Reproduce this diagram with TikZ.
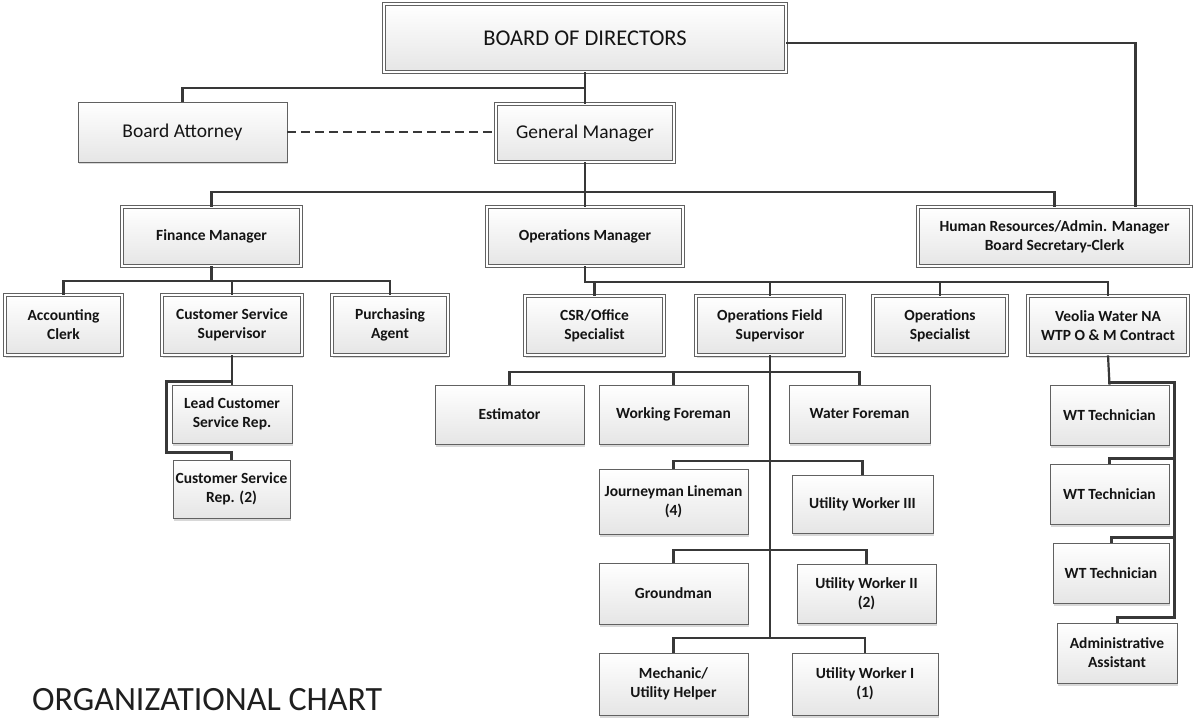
\documentclass[tikz,border=0pt]{standalone}
\usepackage{fontspec}
\setmainfont{Carlito}
\usetikzlibrary{shadows}
\newcommand\orgbox[7]{%
  \node[#6, minimum width={#4-#2}, minimum height={#5-#3}] (#1) at ({(#2+#4)/2},{(#3+#5)/2}) {#7};}
\begin{document}
\begin{tikzpicture}[x=1pt,y=-1pt,
  box/.style={draw=black!62, line width=0.8pt, top color=white, bottom color=black!10,
    inner sep=1pt, align=center, text=black!92,
    font=\bfseries\fontsize{15.5}{19}\selectfont,
    drop shadow={shadow xshift=1pt, shadow yshift=-2.5pt, fill=black!30, opacity=0.5}},
  dbox/.style={box, double=white, double distance=1.8pt, line width=0.75pt},
  bigtext/.style={font=\fontsize{19.5}{22}\selectfont},
  conn/.style={draw=black!78, line width=2.2pt},
  connw/.style={draw=black!78, line width=3pt},
  dashconn/.style={draw=black!78, line width=2.2pt, dash pattern=on 9pt off 5pt}
]
\fill[white] (0,0) rectangle (1194,719);
\useasboundingbox (0,0) rectangle (1194,719);

% boxes
\orgbox{bod}{384}{4}{786}{72}{dbox, font=\fontsize{22.5}{26}\selectfont}{BOARD OF DIRECTORS}
\orgbox{ba}{78}{102}{287}{162}{box, bigtext}{Board Attorney}
\orgbox{gm}{496}{104}{674}{162}{dbox, bigtext}{General Manager}
\orgbox{fm}{122}{207}{301}{266}{dbox}{Finance Manager}
\orgbox{om}{487}{207}{683}{266}{dbox}{Operations Manager}
\orgbox{hr}{918}{207}{1191}{266}{dbox}{Human Resources/Admin. Manager\\Board Secretary-Clerk}
\orgbox{ac}{5}{295}{122}{355}{dbox}{Accounting\\Clerk}
\orgbox{css}{162}{295}{302}{355}{dbox}{Customer Service\\Supervisor}
\orgbox{pa}{332}{295}{448}{355}{dbox}{Purchasing\\Agent}
\orgbox{lcsr}{172}{385}{292}{443}{box}{Lead Customer\\Service Rep.}
\orgbox{csr}{173}{460}{290}{518}{box}{Customer Service\\Rep. (2)}
\orgbox{cso}{525}{296}{664}{355}{dbox}{CSR/Office\\Specialist}
\orgbox{ofs}{696}{296}{844}{355}{dbox}{Operations Field\\Supervisor}
\orgbox{os}{873}{296}{1007}{355}{dbox}{Operations\\Specialist}
\orgbox{veo}{1028}{296}{1188}{355}{dbox}{Veolia Water NA\\WTP O \& M Contract}
\orgbox{est}{435}{385}{584}{444}{box}{Estimator}
\orgbox{wf}{599}{385}{748}{444}{box}{Working Foreman}
\orgbox{wtf}{789}{385}{930}{443}{box}{Water Foreman}
\orgbox{jl}{599}{469}{748}{534}{box}{Journeyman Lineman\\(4)}
\orgbox{uw3}{792}{475}{933}{533}{box}{Utility Worker III}
\orgbox{gr}{599}{563}{748}{624}{box}{Groundman}
\orgbox{uw2}{797}{564}{936}{623}{box}{Utility Worker II\\(2)}
\orgbox{mech}{599}{653}{748}{715}{box}{Mechanic/\\Utility Helper}
\orgbox{uw1}{792}{653}{938}{715}{box}{Utility Worker I\\(1)}
\orgbox{wt1}{1050}{385}{1169}{445}{box}{WT Technician}
\orgbox{wt2}{1050}{464}{1169}{524}{box}{WT Technician}
\orgbox{wt3}{1053}{543}{1169}{603}{box}{WT Technician}
\orgbox{adm}{1057}{623}{1177}{683}{box}{Administrative\\Assistant}

\node[anchor=base west, inner sep=0pt, font=\fontsize{34}{34}\selectfont, text=black!88] (title) at (32,710) {ORGANIZATIONAL CHART};

% junction coordinates
\coordinate (j1) at (585,88);
\coordinate (j2) at (585,192);
\coordinate (j3) at (211.5,281);
\coordinate (j4) at (585,282);
\coordinate (j5) at (232,381);
\coordinate (j6) at (166,452);
\coordinate (k1) at (770,372);
\coordinate (k2) at (770,461);
\coordinate (k3) at (770,550);
\coordinate (k4) at (770,638);
\coordinate (v1) at (1108,382);
\coordinate (v2) at (1174,617);
\coordinate (v3) at (1174,458);
\coordinate (v4) at (1174,537);

% connectors
\draw[conn] ([yshift=-5pt]bod.east) -| ([xshift=81pt]hr.north);
\draw[conn] (bod.south) -- (gm.north);
\draw[conn] (ba.north) |- (j1);
\draw[dashconn] (ba.east) -- (ba.east -| gm.west);
\draw[conn] (gm.south) -- (om.north);
\draw[conn] (fm.north) |- (j2) -| (hr.north);
\draw[conn] (fm.south) -- (j3);
\draw[conn] (ac.north) |- (j3) -| (pa.north);
\draw[conn] (css.north) -- (css.north |- j3);
\draw[conn] (css.south) -- (lcsr.north);
\draw[connw] (j5) -| (j6) -| (csr.north);
\draw[conn] (om.south) -- (j4) -| (veo.north);
\draw[conn] (cso.north) -- (cso.north |- j4);
\draw[conn] (ofs.north) -- (ofs.north |- j4);
\draw[conn] (os.north) -- (os.north |- j4);
\draw[conn] (ofs.south) -- (k4);
\draw[conn] (est.north) |- (k1) -| (wtf.north);
\draw[conn] (wf.north) -- (wf.north |- k1);
\draw[conn] (jl.north) |- (k2) -| (uw3.north);
\draw[conn] (gr.north) |- (k3) -| (uw2.north);
\draw[conn] (mech.north) |- (k4) -| (uw1.north);
\draw[conn] (veo.south) -- (wt1.north);
\draw[connw] (v1) -| (v2) -| (adm.north);
\draw[connw] (v3) -| (wt2.north);
\draw[connw] (v4) -| (wt3.north);
\end{tikzpicture}
\end{document}
